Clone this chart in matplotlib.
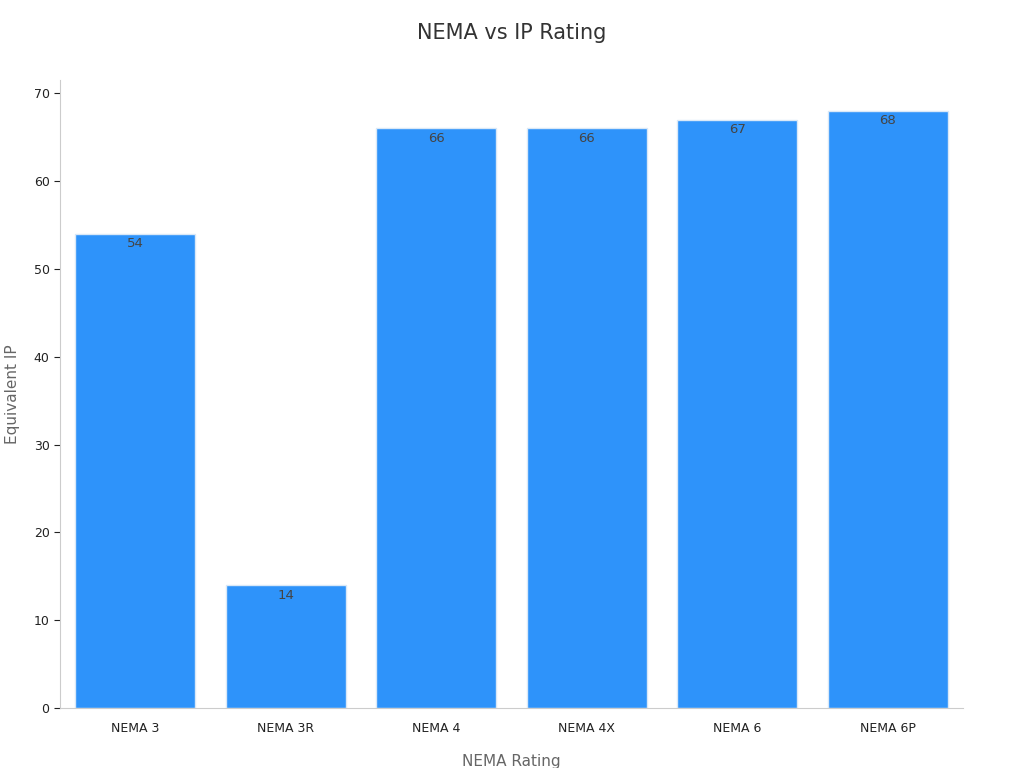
import matplotlib
matplotlib.use('Agg')
import matplotlib.pyplot as plt

# Data
ratings = ['NEMA 3', 'NEMA 3R', 'NEMA 4', 'NEMA 4X', 'NEMA 6', 'NEMA 6P']
equivalent_ip = [54, 14, 66, 66, 67, 68]

BAR_COLOR = '#2E93FA'
TEXT_COLOR = '#333333'

fig = plt.figure(figsize=(10.24, 7.68), dpi=100)
ax = fig.add_axes([60/1024, 1 - 708/768, 903/1024, 628/768])

bars = ax.bar(range(len(ratings)), equivalent_ip, width=0.8,
              color=BAR_COLOR, edgecolor='#d9e8f7', linewidth=1)

for bar, v in zip(bars, equivalent_ip):
    ax.text(bar.get_x() + bar.get_width() / 2, v - 0.4, str(v),
            ha='center', va='top', fontsize=9.5, color='#444444')

ax.set_xlim(-0.5, 5.5)
ax.set_ylim(0, 71.5)
ax.set_xticks(range(len(ratings)))
ax.set_xticklabels(ratings)
ax.set_yticks(range(0, 71, 10))
ax.tick_params(labelsize=9, colors='#222222', length=4)
ax.tick_params(axis='x', length=0, pad=10)

for side in ['top', 'right']:
    ax.spines[side].set_visible(False)
for side in ['left', 'bottom']:
    ax.spines[side].set_color('#cccccc')

ax.set_xlabel('NEMA Rating', fontsize=11, color='#666666', labelpad=14)
ax.set_ylabel('Equivalent IP', fontsize=11, color='#666666', labelpad=10)
fig.suptitle('NEMA vs IP Rating', fontsize=15, color=TEXT_COLOR, y=1 - 33/768, va='center')

fig.savefig('out.png', dpi=100)
